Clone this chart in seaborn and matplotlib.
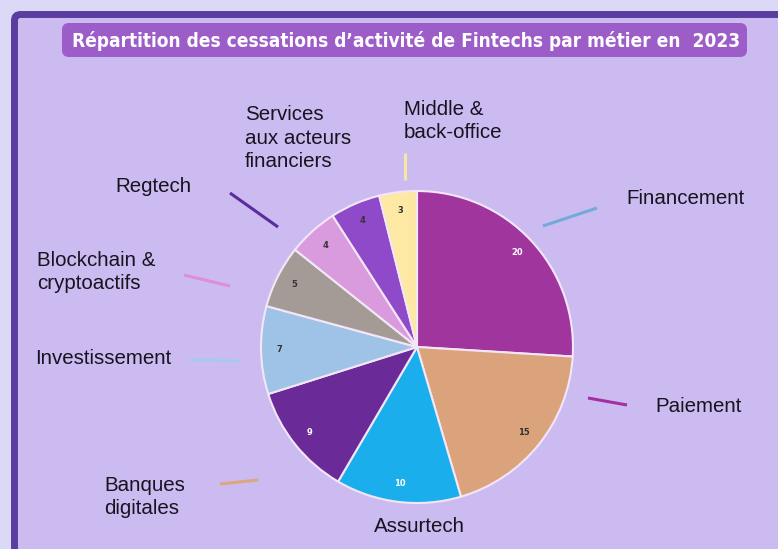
import matplotlib
matplotlib.use("Agg")
import matplotlib.pyplot as plt
from matplotlib.patches import FancyBboxPatch
import seaborn as sns

# Données : cessations d'activité par métier (2023)
metiers = ["Financement", "Paiement", "Assurtech", "Banques\ndigitales",
           "Investissement", "Blockchain &\ncryptoactifs", "Regtech",
           "Services\naux acteurs\nfinanciers", "Middle &\nback-office"]
valeurs = [20, 15, 10, 9, 7, 5, 4, 4, 3]
couleurs = ["#A0359E", "#DBA37C", "#1AAFEC", "#6A2B98", "#9FC3E7",
            "#A59B96", "#D99BDD", "#8F4AC9", "#FDE8A4"]
couleurs_valeurs = ["white", "#333333", "white", "white", "#333333",
                    "#333333", "#333333", "#333333", "#333333"]

# mise en page (pixels de l'image)
label_pos = [(626, 199, "left"), (655, 407, "left"), (419, 527, "center"),
             (104, 497, "left"), (35, 358, "left"), (37, 272, "left"),
             (115, 186, "left"), (245, 138, "left"), (404, 121, "left")]
traits = [((543, 226), (597, 208), "#74A9D9"), ((588, 398), (627, 405), "#A32FA3"),
          ((220, 484), (258, 480), "#DDA77C"), ((190, 360), (240, 361), "#A8CAEA"),
          ((184, 275), (230, 286), "#E08ED2"), ((230, 193), (278, 227), "#5A2C9C"),
          ((405, 153), (405, 180), "#F8E7A2")]

sns.set_theme(style="white")
W, H = 778, 549
fig = plt.figure(figsize=(W / 100, H / 100), dpi=100)
fig.patch.set_facecolor("#DCD8F8")
ax = fig.add_axes([0, 0, 1, 1])

wedges, texts, autotexts = ax.pie(
    valeurs, colors=couleurs, startangle=90, counterclock=False,
    center=(417, H - 347), radius=156,
    autopct=lambda p: f"{round(p * sum(valeurs) / 100)}", pctdistance=0.88,
    wedgeprops=dict(edgecolor="#F3E6F6", linewidth=1.5),
    textprops=dict(fontsize=6, fontweight="bold", family="DejaVu Sans"))
for t, c in zip(autotexts, couleurs_valeurs):
    t.set_color(c)

ax.set_xlim(0, W)
ax.set_ylim(0, H)
ax.set_aspect("equal")
ax.axis("off")

# fond et cadre
ax.add_patch(FancyBboxPatch((14.5, -20), W + 20, H - 14.5 + 20,
                            boxstyle="round,pad=0,rounding_size=6",
                            facecolor="#CCBBF1", edgecolor="#5A3D9E",
                            linewidth=5, zorder=0))

# bandeau du titre
ax.add_patch(FancyBboxPatch((62, H - 57), 685, 34,
                            boxstyle="round,pad=0,rounding_size=7",
                            facecolor="#9C5DC9", edgecolor="none", zorder=1))
ax.text(406, H - 41, "Répartition des cessations d’activité de Fintechs par métier en  2023",
        ha="center", va="center", color="white", fontsize=13.7, fontweight="bold",
        family=["DejaVu Sans"], fontstretch="condensed", zorder=2)

for (x, y, ha), lab in zip(label_pos, metiers):
    ax.text(x, H - y, lab, ha=ha, va="center", fontsize=14.8, color="#17131F",
            family=["Liberation Sans", "DejaVu Sans"], linespacing=1.3, zorder=3)

for (x0, y0), (x1, y1), c in traits:
    ax.plot([x0, x1], [H - y0, H - y1], color=c, linewidth=2.2,
            solid_capstyle="butt", zorder=3)

fig.savefig("out.png", dpi=100, facecolor=fig.get_facecolor())
